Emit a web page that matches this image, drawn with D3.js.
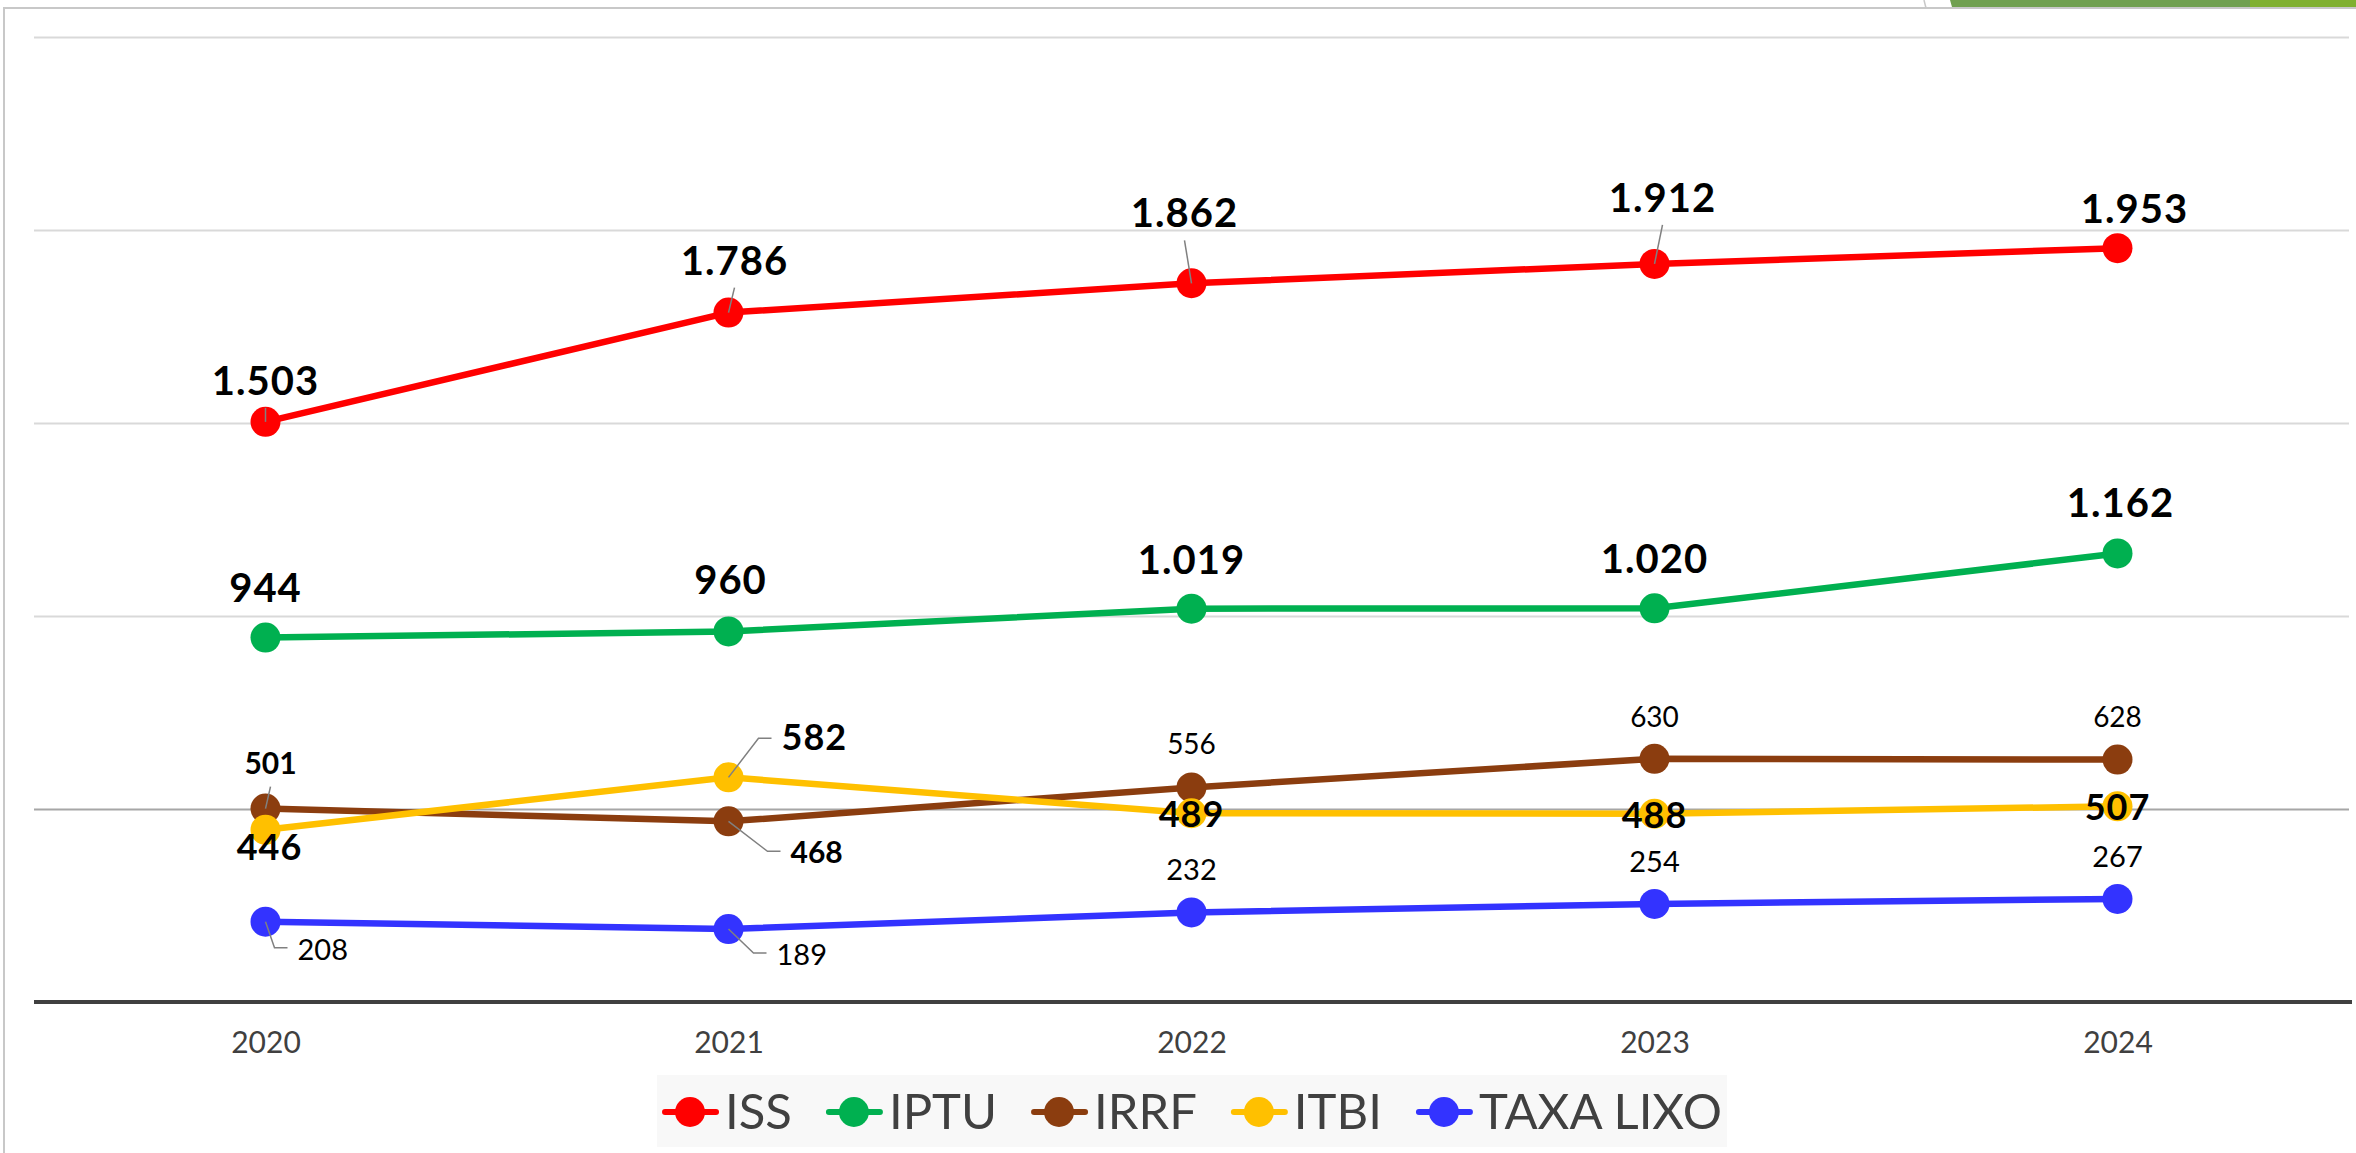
<!DOCTYPE html>
<html>
<head>
<meta charset="utf-8">
<script src="https://cdn.jsdelivr.net/npm/d3@7"></script>
<style>
  html, body { margin: 0; padding: 0; background: #fff; }
  svg { display: block; font-family: Lato, "Open Sans", sans-serif; }
</style>
</head>
<body>
<svg id="chart"></svg>
<script>
// valores (em milhões)
const years = ["2020", "2021", "2022", "2023", "2024"];
const seriesNames = ["ISS", "IPTU", "IRRF", "ITBI", "TAXA LIXO"];
const issValues = [1503, 1786, 1862, 1912, 1953];
const iptuValues = [944, 960, 1019, 1020, 1162];
const irrfValues = [501, 468, 556, 630, 628];
const itbiValues = [446, 582, 489, 488, 507];
const lixoValues = [208, 189, 232, 254, 267];
const yTicks = [500, 1000, 1500, 2000, 2500];
const seriesColors = ["#ff0000", "#00b050", "#8b3d0f", "#ffc000", "#3333ff"];

// posicao dos rotulos (ajustes manuais como no original)
const labelStyle = [
  { size: 40, weight: "bold" },
  { size: 40, weight: "bold" },
  { size: 28, weight: "normal" },
  { size: 36, weight: "bold" },
  { size: 29, weight: "normal" }
];
const labelLayout = [
  [{dx: 0, dy: -27, lead: "up"}, {dx: 6, dy: -38, lead: "up"}, {dx: -7, dy: -56, lead: "up"}, {dx: 8, dy: -52, lead: "up"}, {dx: 17, dy: -25}],
  [{dx: 0, dy: -36}, {dx: 2, dy: -37}, {dx: 0, dy: -35}, {dx: 0, dy: -35}, {dx: 3, dy: -36}],
  [{dx: 5, dy: -35, lead: "up", size: 30, weight: "bold"}, {dx: 62, dy: 42, lead: "elbow", size: 30, weight: "bold"}, {dx: 0, dy: -33}, {dx: 0, dy: -32}, {dx: 0, dy: -33}],
  [{dx: 4, dy: 30}, {dx: 53, dy: -27, lead: "elbow"}, {dx: 0, dy: 14}, {dx: 0, dy: 14}, {dx: 0, dy: 14}],
  [{dx: 32, dy: 38, lead: "elbow"}, {dx: 48, dy: 36, lead: "elbow"}, {dx: 0, dy: -32}, {dx: 0, dy: -32}, {dx: 0, dy: -32}]
];

const width = 2356, height = 1153;
const svg = d3.select("#chart").attr("width", width).attr("height", height);

const ptBR = d3.formatLocale({decimal: ",", thousands: ".", grouping: [3], currency: ["R$ ", ""]});
const fmt = ptBR.format(",d");

const allValues = [issValues, iptuValues, irrfValues, itbiValues, lixoValues];
const series = seriesNames.map((name, i) => ({
  name: name,
  color: seriesColors[i],
  style: labelStyle[i],
  points: years.map((yr, j) => ({year: yr, value: allValues[i][j], layout: labelLayout[i][j]}))
}));

const x = d3.scalePoint().domain(years).range([34, 2349]).padding(0.5);
const y = d3.scaleLinear().domain([0, 2500]).range([1002, 37]);

// moldura e detalhe do slide
svg.append("rect")
  .attr("x", 4).attr("y", 8).attr("width", width + 20).attr("height", height + 20)
  .attr("fill", "none").attr("stroke", "#c8c8c8").attr("stroke-width", 2);
svg.append("path")
  .attr("d", "M1924,0 Q1925,4 1926,8")
  .attr("fill", "none").attr("stroke", "#c8c8c8").attr("stroke-width", 1.5);
svg.append("polygon")
  .attr("points", "1950,0 2250,0 2250,7 1952,7")
  .attr("fill", "#70a050");
svg.append("polygon")
  .attr("points", "2250,0 2356,0 2356,7 2250,7")
  .attr("fill", "#80b030");

// linhas de grade
const grid = svg.append("g")
  .attr("transform", "translate(" + 34 + ",0)")
  .call(d3.axisLeft(y).tickValues(yTicks).tickSize(-(2349 - 34)).tickFormat(""));
grid.select(".domain").remove();
grid.selectAll(".tick line")
  .attr("stroke", d => d === 500 ? "#a6a6a6" : "#d9d9d9")
  .attr("stroke-width", 2);

// eixo x
const xAxis = svg.append("g")
  .attr("transform", "translate(0," + y(0) + ")")
  .call(d3.axisBottom(x).tickSize(0).tickPadding(30));
xAxis.select(".domain")
  .attr("d", "M34,0H2352")
  .attr("stroke", "#404040").attr("stroke-width", 4);
xAxis.selectAll("text")
  .attr("font-family", "Lato, sans-serif")
  .attr("font-size", 30)
  .attr("fill", "#404040");

const line = d3.line()
  .x(d => x(d.year))
  .y(d => y(d.value));

const groups = svg.selectAll(".serie")
  .data(series)
  .enter().append("g")
  .attr("class", "serie");

groups.append("path")
  .attr("d", d => line(d.points))
  .attr("fill", "none")
  .attr("stroke", d => d.color)
  .attr("stroke-width", 6.5)
  .attr("stroke-linejoin", "round");

groups.selectAll("circle")
  .data(d => d.points.map(p => Object.assign({color: d.color}, p)))
  .enter().append("circle")
  .attr("cx", d => x(d.year))
  .attr("cy", d => y(d.value))
  .attr("r", 15)
  .attr("fill", d => d.color);

// rotulos de dados
const labels = svg.append("g").attr("class", "labels");
series.forEach(s => {
  s.points.forEach(p => {
    const L = p.layout;
    const px = x(p.year), py = y(p.value);
    const lx = px + L.dx, ly = py + L.dy;
    const anchor = L.lead === "elbow" ? "start" : "middle";
    if (L.lead === "up") {
      labels.append("line")
        .attr("x1", px).attr("y1", py)
        .attr("x2", lx).attr("y2", ly + 13)
        .attr("stroke", "#808080").attr("stroke-width", 1.5);
    } else if (L.lead === "elbow") {
      labels.append("polyline")
        .attr("points", [[px, py], [lx - 23, ly - 12], [lx - 10, ly - 12]].map(q => q.join(",")).join(" "))
        .attr("fill", "none")
        .attr("stroke", "#808080").attr("stroke-width", 1.5);
    }
    labels.append("text")
      .attr("x", lx).attr("y", ly)
      .attr("text-anchor", anchor)
      .attr("font-size", L.size || s.style.size)
      .attr("font-weight", L.weight || s.style.weight)
      .attr("letter-spacing", (L.size || s.style.size) >= 36 ? 1 : 0)
      .attr("fill", "#000")
      .text(fmt(p.value));
  });
});

// legenda
const legend = svg.append("g").attr("class", "legend");
legend.append("rect")
  .attr("x", 657).attr("y", 1075).attr("width", 1070).attr("height", 72)
  .attr("fill", "#f8f8f8");
const items = legend.selectAll(".item")
  .data(series)
  .enter().append("g")
  .attr("class", "item");
items.append("line")
  .attr("x1", 3).attr("x2", 54).attr("y1", 0).attr("y2", 0)
  .attr("stroke", d => d.color).attr("stroke-width", 6).attr("stroke-linecap", "round");
items.append("circle")
  .attr("cx", 28).attr("cy", 0).attr("r", 15)
  .attr("fill", d => d.color);
items.append("text")
  .attr("x", 63).attr("y", 17)
  .attr("font-size", 49)
  .attr("fill", "#404040")
  .text(d => d.name);

let widths = [];
items.each(function() { widths.push(63 + this.querySelector("text").getComputedTextLength()); });
const gap = 34;
const total = d3.sum(widths) + gap * (widths.length - 1);
let cursor = 1192 - total / 2;
items.attr("transform", (d, i) => {
  const t = "translate(" + cursor + ",1112)";
  cursor += widths[i] + gap;
  return t;
});
</script>
</body>
</html>
